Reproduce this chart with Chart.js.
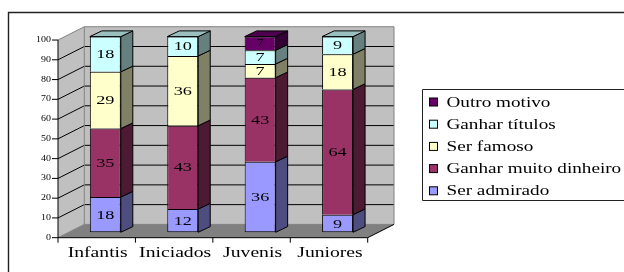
<!DOCTYPE html>
<html>
<head>
<meta charset="utf-8">
<script src="https://cdn.jsdelivr.net/npm/chart.js@4/dist/chart.umd.min.js"></script>
<style>
  html, body { margin: 0; padding: 0; background: #ffffff; }
  canvas { display: block; }
</style>
</head>
<body>
<canvas id="c" width="624" height="272"></canvas>
<script>
// ---- data ----
const categories = ['Infantis', 'Iniciados', 'Juvenis', 'Juniores'];
const serAdmirado = [18, 12, 36, 9];
const ganharMuitoDinheiro = [35, 43, 43, 64];
const serFamoso = [29, 36, 7, 18];
const ganharTitulos = [18, 10, 7, 9];
const outroMotivo = [0, 0, 7, 0];
const seriesNames = ['Ser admirado', 'Ganhar muito dinheiro', 'Ser famoso', 'Ganhar títulos', 'Outro motivo'];
const yTicks = [0, 10, 20, 30, 40, 50, 60, 70, 80, 90, 100];

// ---- styles ----
const SERIF = '"Liberation Serif", "Times New Roman", serif';
const colors = [
  { front: '#9999ff', side: '#4d4d80', top: '#7373bf' },
  { front: '#993366', side: '#4d1a33', top: '#73264d' },
  { front: '#ffffcc', side: '#808066', top: '#bfbf99' },
  { front: '#ccffff', side: '#668080', top: '#99bfbf' },
  { front: '#660066', side: '#330033', top: '#4d004d' }
];
const rawSeries = [serAdmirado, ganharMuitoDinheiro, serFamoso, ganharTitulos, outroMotivo];

// 100% stacked: share of each category total
const totals = categories.map((_, j) => rawSeries.reduce((s, arr) => s + arr[j], 0));
const datasets = rawSeries.map((arr, i) => ({
  label: seriesNames[i],
  data: arr.map((v, j) => v === 0 ? null : v / totals[j] * 100),
  raw: arr,
  backgroundColor: colors[i].front,
  borderColor: '#000000',
  borderWidth: 1,
  borderSkipped: i === 0 ? false : 'start',
  labelSize: i === 4 ? 9.5 : 13.5,
  clip: false
}));

// projection geometry (offsets relative to bar plane)
const FRONT = { dx: -8.6, dy: 5.4, k: 1.01 };
const BACK = { dx: 17.7, dy: -7.9, k: 1.01 };
const BAR_DEPTH = { dx: 12, dy: -5.7 };

function stretchText(ctx, text, x, y, sx, align) {
  ctx.save();
  ctx.translate(x, y);
  ctx.scale(sx, 1);
  ctx.textAlign = align;
  ctx.fillText(text, 0, 0);
  ctx.restore();
}

function planeY(ys, v, plane) {
  const y0 = ys.getPixelForValue(0);
  return y0 + (ys.getPixelForValue(v) - y0) * plane.k + plane.dy;
}

const scenePlugin = {
  id: 'scene3d',
  beforeDatasetsDraw(chart) {
    const ctx = chart.ctx;
    const ys = chart.scales.y;
    const xs = chart.scales.x;
    const area = chart.chartArea;
    const fl = area.left + FRONT.dx, fr = area.right + FRONT.dx;
    const bl = area.left + BACK.dx, br = area.right + BACK.dx;
    const fy0 = planeY(ys, 0, FRONT), fy100 = planeY(ys, 100, FRONT);
    const by0 = planeY(ys, 0, BACK), by100 = planeY(ys, 100, BACK);
    ctx.save();

    // outer border
    ctx.strokeStyle = '#222222';
    ctx.lineWidth = 1.4;
    ctx.beginPath();
    ctx.moveTo(8.5, 280); ctx.lineTo(8.5, 12.5); ctx.lineTo(640, 12.5);
    ctx.stroke();

    // back wall
    ctx.fillStyle = '#c0c0c0';
    ctx.fillRect(bl, by100, br - bl, by0 - by100);
    // side wall
    ctx.beginPath();
    ctx.moveTo(fl, fy100); ctx.lineTo(bl, by100); ctx.lineTo(bl, by0); ctx.lineTo(fl, fy0);
    ctx.closePath(); ctx.fill();
    // floor
    ctx.fillStyle = '#808080';
    ctx.beginPath();
    ctx.moveTo(fl, fy0); ctx.lineTo(fr, fy0); ctx.lineTo(br, by0); ctx.lineTo(bl, by0);
    ctx.closePath(); ctx.fill();

    // gridlines
    ctx.lineWidth = 1;
    yTicks.forEach(v => {
      const fy = planeY(ys, v, FRONT), by = planeY(ys, v, BACK);
      ctx.strokeStyle = (v === 0 || v === 100) ? '#808080' : '#000000';
      ctx.beginPath();
      ctx.moveTo(fl, fy); ctx.lineTo(bl, by); ctx.lineTo(br, by);
      ctx.stroke();
    });
    // wall edges
    ctx.strokeStyle = '#808080';
    ctx.beginPath();
    ctx.moveTo(bl, by0); ctx.lineTo(bl, by100);
    ctx.moveTo(br, by100); ctx.lineTo(br, by0);
    ctx.stroke();

    // value axis
    ctx.strokeStyle = '#000000';
    ctx.beginPath();
    ctx.moveTo(fl, fy100); ctx.lineTo(fl, fy0);
    yTicks.forEach(v => {
      const fy = planeY(ys, v, FRONT);
      ctx.moveTo(fl - 6, fy); ctx.lineTo(fl, fy);
    });
    ctx.stroke();
    // category axis
    ctx.beginPath();
    ctx.moveTo(fl, fy0); ctx.lineTo(fr, fy0); ctx.lineTo(br, by0);
    const step = (area.right - area.left) / categories.length;
    for (let j = 0; j <= categories.length; j++) {
      const x = fl + step * j;
      ctx.moveTo(x, fy0); ctx.lineTo(x, fy0 + 5);
    }
    ctx.stroke();

    // tick labels
    ctx.fillStyle = '#000000';
    ctx.font = '7.5px ' + SERIF;
    ctx.textBaseline = 'middle';
    yTicks.forEach(v => {
      stretchText(ctx, String(v), fl - 7, planeY(ys, v, FRONT), 1.33, 'right');
    });
    ctx.font = '15px ' + SERIF;
    ctx.textBaseline = 'alphabetic';
    categories.forEach((c, j) => {
      const x = xs.getPixelForValue(j) + FRONT.dx + 1;
      stretchText(ctx, c, x, 256.5, 1.31, 'center');
    });
    ctx.restore();
  },
  afterDatasetsDraw(chart) {
    const ctx = chart.ctx;
    ctx.save();
    ctx.lineWidth = 1;
    ctx.strokeStyle = '#000000';
    ctx.lineJoin = 'miter';
    const n = categories.length;
    // topmost segment per category
    const topIdx = categories.map((_, j) => {
      let t = -1;
      chart.data.datasets.forEach((ds, i) => { if (ds.data[j] != null) t = i; });
      return t;
    });
    chart.data.datasets.forEach((ds, i) => {
      const meta = chart.getDatasetMeta(i);
      meta.data.forEach((el, j) => {
        if (ds.data[j] == null) return;
        const p = el.getProps(['x', 'y', 'base', 'width'], true);
        const xl = p.x - p.width / 2, xr = p.x + p.width / 2;
        const top = Math.min(p.y, p.base), base = Math.max(p.y, p.base);
        // side face
        ctx.fillStyle = colors[i].side;
        ctx.beginPath();
        ctx.moveTo(xr, top); ctx.lineTo(xr + BAR_DEPTH.dx, top + BAR_DEPTH.dy);
        ctx.lineTo(xr + BAR_DEPTH.dx, base + BAR_DEPTH.dy); ctx.lineTo(xr, base);
        ctx.closePath(); ctx.fill(); ctx.stroke();
        if (topIdx[j] === i) {
          ctx.fillStyle = colors[i].top;
          ctx.beginPath();
          ctx.moveTo(xl, top); ctx.lineTo(xl + BAR_DEPTH.dx, top + BAR_DEPTH.dy);
          ctx.lineTo(xr + BAR_DEPTH.dx, top + BAR_DEPTH.dy); ctx.lineTo(xr, top);
          ctx.closePath(); ctx.fill(); ctx.stroke();
        }
        // value label
        ctx.fillStyle = '#000000';
        ctx.font = ds.labelSize + 'px ' + SERIF;
        ctx.textBaseline = 'middle';
        stretchText(ctx, String(ds.raw[j]), p.x, (top + base) / 2 + 0.5, 1.35, 'center');
      });
    });
    ctx.restore();
  },
  afterDraw(chart) {
    const ctx = chart.ctx;
    ctx.save();
    // legend box
    ctx.strokeStyle = '#222222';
    ctx.lineWidth = 1;
    ctx.beginPath();
    ctx.moveTo(640, 89.5); ctx.lineTo(422.5, 89.5); ctx.lineTo(422.5, 200.5); ctx.lineTo(640, 200.5);
    ctx.stroke();
    const order = chart.data.datasets.map((_, i) => i).reverse();
    ctx.font = '14px ' + SERIF;
    ctx.textBaseline = 'alphabetic';
    order.forEach((i, k) => {
      const cy = 102 + k * 22.2;
      ctx.fillStyle = colors[i].front;
      ctx.fillRect(429.5, cy - 4, 8, 8);
      ctx.strokeStyle = '#000000';
      ctx.strokeRect(429.5, cy - 4, 8, 8);
      ctx.fillStyle = '#000000';
      stretchText(ctx, chart.data.datasets[i].label, 446.5, cy + 4.5, 1.37, 'left');
    });
    ctx.restore();
  }
};

new Chart(document.getElementById('c'), {
  type: 'bar',
  data: { labels: categories, datasets: datasets },
  options: {
    responsive: false,
    animation: false,
    events: [],
    layout: { padding: { left: 66.6, right: 247.7, top: 36.6, bottom: 39.7 } },
    datasets: { bar: { categoryPercentage: 1.0, barPercentage: 0.4 } },
    scales: {
      x: { stacked: true, display: false },
      y: { stacked: true, display: false, min: 0, max: 100 }
    },
    plugins: { legend: { display: false }, tooltip: { enabled: false }, title: { display: false } }
  },
  plugins: [scenePlugin]
});
</script>
</body>
</html>
